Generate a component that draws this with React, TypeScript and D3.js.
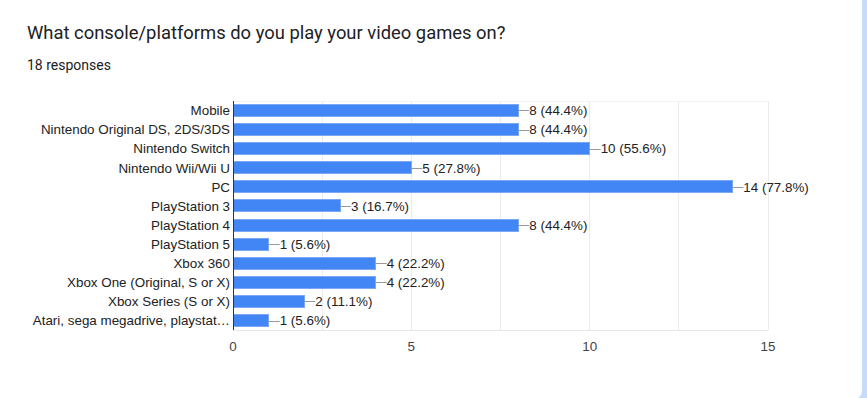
import React, { useEffect, useRef } from 'react';
import * as d3 from 'd3';

const platforms = [
  'Mobile',
  'Nintendo Original DS, 2DS/3DS',
  'Nintendo Switch',
  'Nintendo Wii/Wii U',
  'PC',
  'PlayStation 3',
  'PlayStation 4',
  'PlayStation 5',
  'Xbox 360',
  'Xbox One (Original, S or X)',
  'Xbox Series (S or X)',
  'Atari, sega megadrive, playstat…',
];
const counts = [8, 8, 10, 5, 14, 3, 8, 1, 4, 4, 2, 1];
const percents = ['44.4%', '44.4%', '55.6%', '27.8%', '77.8%', '16.7%', '44.4%', '5.6%', '22.2%', '22.2%', '11.1%', '5.6%'];
const xTicks = [0, 5, 10, 15];
const gridTicks = [2.5, 5, 7.5, 10, 12.5, 15];

const title = 'What console/platforms do you play your video games on?';
const subtitle = '18 responses';

const FONT = 'Arial, "Liberation Sans", sans-serif';
const FS = 13.4;

export default function App() {
  const ref = useRef<SVGSVGElement>(null);

  useEffect(() => {
    const svg = d3.select(ref.current);
    svg.selectAll('*').remove();

    const W = 867, H = 398;
    // page background + card
    svg.append('rect').attr('width', W).attr('height', H).attr('fill', '#c9dbfb');
    svg.append('rect').attr('x', -10).attr('y', -10).attr('width', 872).attr('height', 409)
      .attr('rx', 8).attr('fill', '#fff');

    svg.append('text').attr('x', 27).attr('y', 39)
      .attr('font-family', 'Roboto, sans-serif').attr('font-size', 18.4)
      .attr('fill', '#202124').text(title);
    svg.append('text').attr('x', 27).attr('y', 70)
      .attr('font-family', 'Roboto, sans-serif').attr('font-size', 14)
      .attr('fill', '#202124').text(subtitle);

    const left = 233, right = 768, top = 101, bottom = 330;
    const x = d3.scaleLinear().domain([0, 15]).range([left, right]);
    const y = d3.scaleBand().domain(platforms).range([top, bottom]).paddingInner(0.37).paddingOuter(0.18);

    const g = svg.append('g');
    // grid
    g.selectAll('.grid').data(gridTicks).enter().append('line')
      .attr('x1', d => x(d)).attr('x2', d => x(d))
      .attr('y1', top).attr('y2', bottom)
      .attr('stroke', '#ebebeb').attr('stroke-width', 1)
      .attr('shape-rendering', 'crispEdges');
    g.append('line').attr('x1', left).attr('x2', right).attr('y1', top).attr('y2', top)
      .attr('stroke', '#f2f2f2').attr('shape-rendering', 'crispEdges');
    g.append('line').attr('x1', left).attr('x2', right).attr('y1', bottom).attr('y2', bottom)
      .attr('stroke', '#e6e6e6').attr('shape-rendering', 'crispEdges');

    // bars
    g.selectAll('.bar').data(counts).enter().append('rect')
      .attr('x', left)
      .attr('y', (d, i) => y(platforms[i])!)
      .attr('width', d => x(d) - left)
      .attr('height', y.bandwidth())
      .attr('fill', '#4285f4')
      .attr('stroke', '#7ba7f6').attr('stroke-width', 1)
      .attr('shape-rendering', 'crispEdges');

    // axis line
    g.append('line').attr('x1', left + 0.5).attr('x2', left + 0.5).attr('y1', top).attr('y2', bottom)
      .attr('stroke', '#333').attr('stroke-width', 1);

    // category labels
    g.selectAll('.cat').data(platforms).enter().append('text')
      .attr('x', left - 3)
      .attr('y', d => y(d)! + y.bandwidth() / 2)
      .attr('dy', '0.36em')
      .attr('text-anchor', 'end')
      .attr('font-family', FONT).attr('font-size', FS)
      .attr('fill', '#222').text(d => d);

    // annotations
    const ann = g.selectAll('.ann').data(counts).enter().append('g');
    ann.append('line')
      .attr('x1', d => x(d)).attr('x2', d => x(d) + 11)
      .attr('y1', (d, i) => Math.round(y(platforms[i])! + y.bandwidth() / 2) + 0.5)
      .attr('y2', (d, i) => Math.round(y(platforms[i])! + y.bandwidth() / 2) + 0.5)
      .attr('stroke', '#999').attr('stroke-width', 1);
    ann.append('text')
      .attr('x', d => x(d) + 11)
      .attr('y', (d, i) => y(platforms[i])! + y.bandwidth() / 2)
      .attr('dy', '0.36em')
      .attr('font-family', FONT).attr('font-size', FS)
      .attr('fill', '#222').text((d, i) => `${d} (${percents[i]})`);

    // x tick labels
    g.selectAll('.tick').data(xTicks).enter().append('text')
      .attr('x', d => x(d)).attr('y', 351)
      .attr('text-anchor', 'middle')
      .attr('font-family', FONT).attr('font-size', FS)
      .attr('fill', '#444').text(d => d);
  }, []);

  return (
    <svg ref={ref} width={867} height={398}
      style={{ position: 'absolute', left: 0, top: 0, display: 'block' }} />
  );
}
